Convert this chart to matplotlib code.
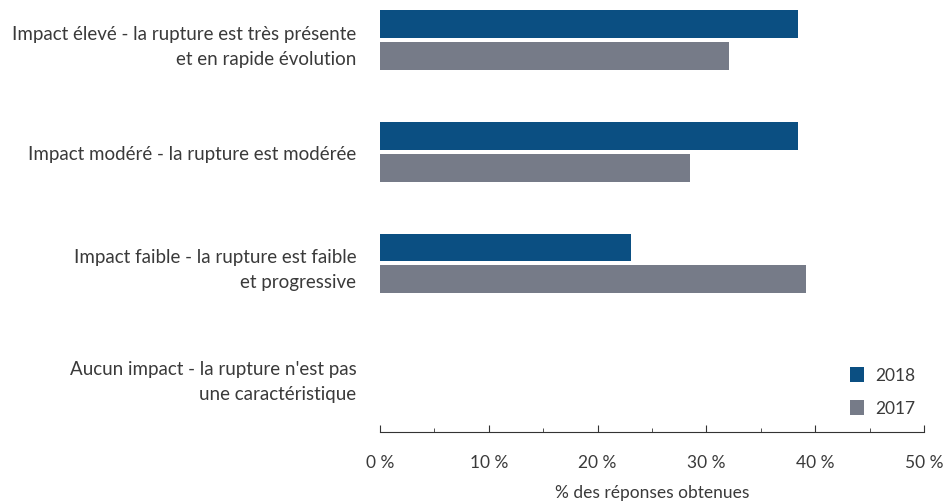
import numpy as np
import matplotlib.pyplot as plt
from matplotlib.ticker import MultipleLocator, FuncFormatter

categories = ["Impact élevé - la rupture est très présente\net en rapide évolution",
              "Impact modéré - la rupture est modérée",
              "Impact faible - la rupture est faible\net progressive",
              "Aucun impact - la rupture n'est pas\nune caractéristique"]
v2018 = [38.4, 38.4, 23.1, 0]
v2017 = [32.1, 28.5, 39.2, 0]

plt.rcParams['font.family'] = ['Lato', 'DejaVu Sans']
txt = '#3a3a3a'

fig = plt.figure(figsize=(9.46, 5.02), dpi=100)
ax = fig.add_axes([0.4017, 0.1375, 0.575, 0.8625])

y = np.arange(len(categories))
h = 0.25
ax.barh(y - 0.143, v2018, height=h, color='#0b4f82', label='2018')
ax.barh(y + 0.143, v2017, height=h, color='#767b88', label='2017')

ax.set_xlim(0, 50)
ax.set_ylim(3.51, -0.37)
ax.set_yticks(y)
ax.set_yticklabels(categories, fontsize=13.5, color=txt, ha='right', linespacing=1.6)
ax.tick_params(axis='y', length=0, pad=17)

ax.xaxis.set_major_locator(MultipleLocator(10))
ax.xaxis.set_minor_locator(MultipleLocator(5))
ax.xaxis.set_major_formatter(FuncFormatter(lambda v, p: f"{v:.0f} %"))
ax.tick_params(axis='x', which='major', direction='in', length=5, color='#333333', labelsize=12.5, labelcolor=txt, pad=16)
ax.tick_params(axis='x', which='minor', direction='in', length=3, color='#333333')
ax.set_xlabel("% des réponses obtenues", fontsize=12.5, color=txt, labelpad=10)

for s in ['top', 'right', 'left']:
    ax.spines[s].set_visible(False)
ax.spines['bottom'].set_color('#333333')

ax.legend(loc='lower right', bbox_to_anchor=(1.012, 0.0), frameon=False, fontsize=12.5,
          labelcolor=txt, handlelength=0.85, handleheight=0.95, labelspacing=0.95,
          handletextpad=0.6)

fig.savefig('out.png', dpi=100)
